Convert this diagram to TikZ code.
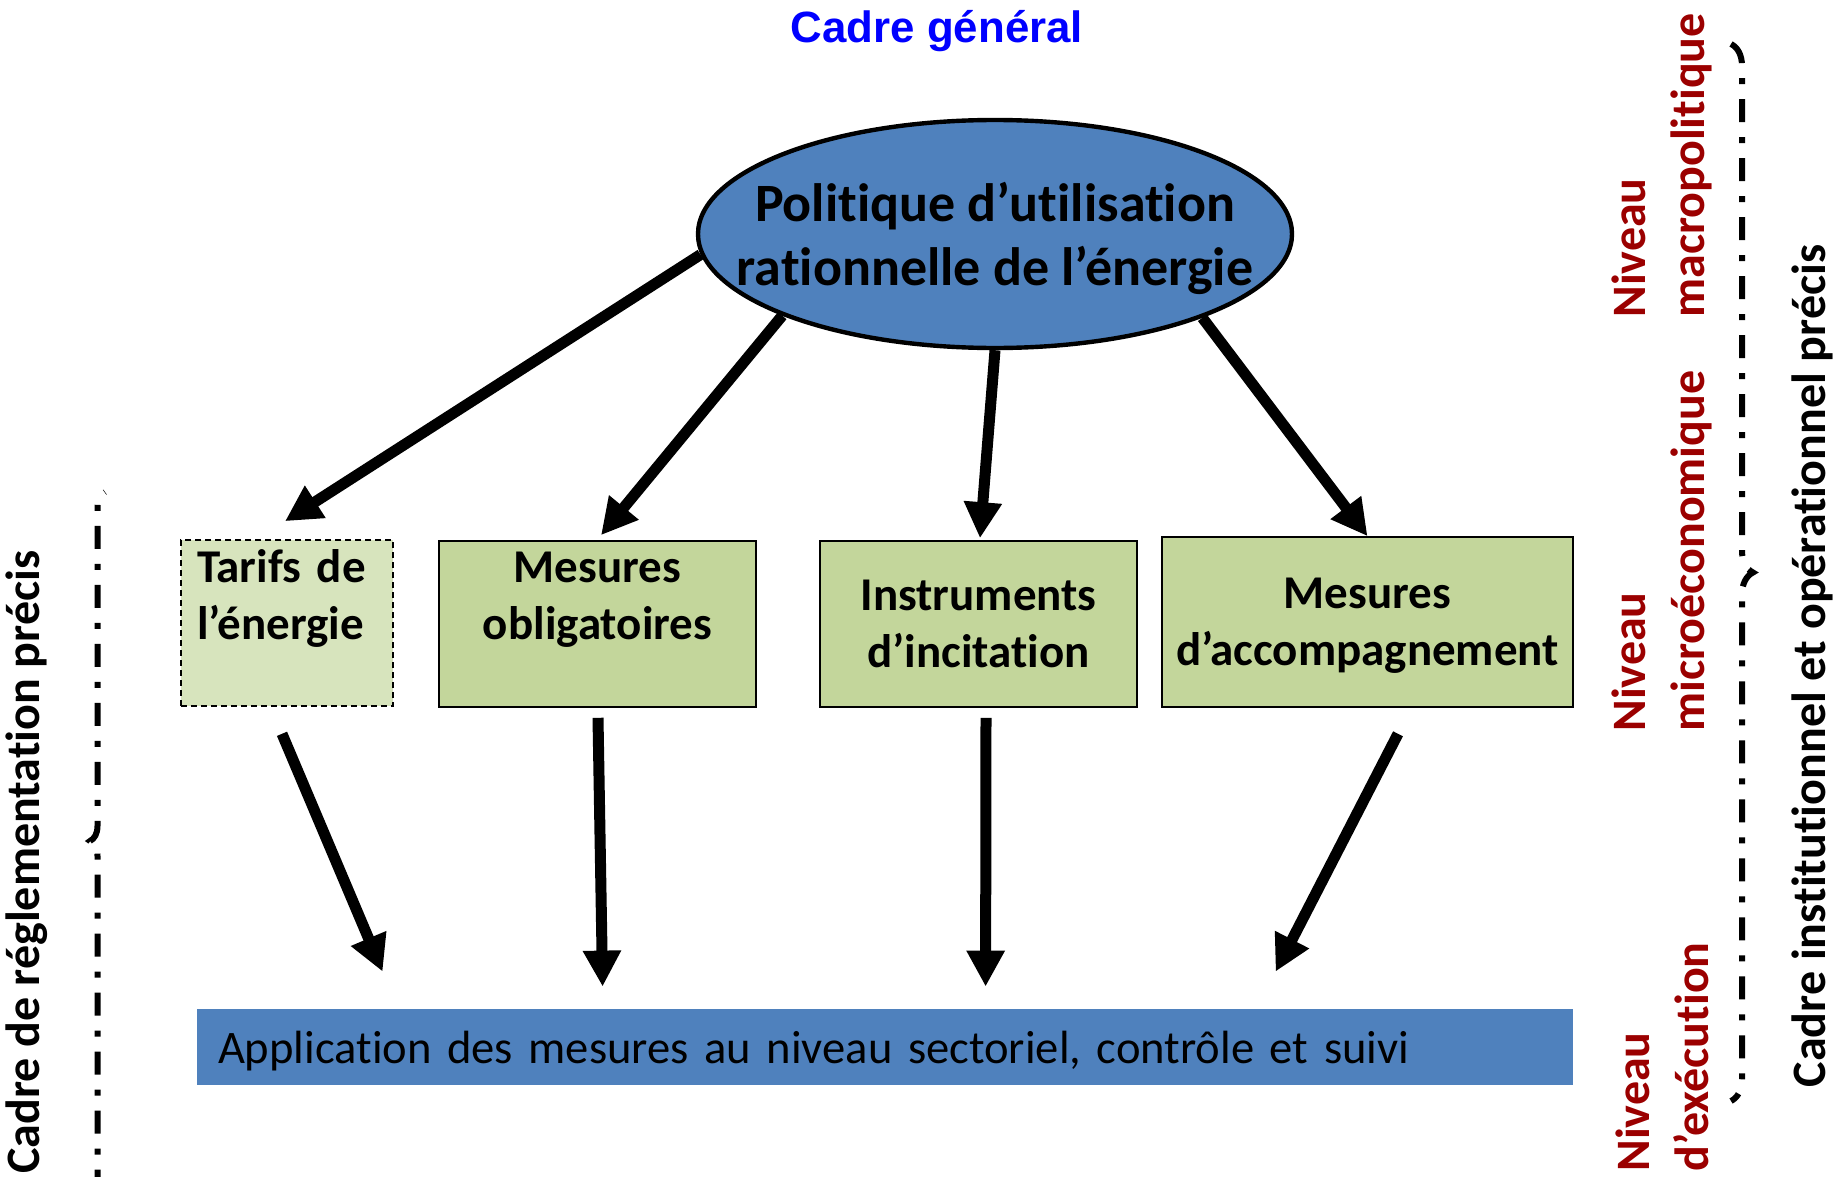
\documentclass[tikz,border=0pt]{standalone}
\usepackage{fontspec}
\setmainfont[Ligatures={TeX,NoCommon}]{Carlito}
\newfontfamily\arialf{Liberation Sans}
\usetikzlibrary{shapes.geometric,arrows.meta,decorations.pathreplacing}
\definecolor{bleu}{RGB}{79,129,189}
\definecolor{vert}{RGB}{195,214,155}
\definecolor{vertclair}{RGB}{215,228,189}
\definecolor{rouge}{RGB}{155,0,0}

\begin{document}
\begin{tikzpicture}[x=0.5pt,y=-0.5pt,
    boite/.style={draw,line width=0.8pt,fill=vert,inner sep=0pt,align=center,text depth=0pt,
      font=\bfseries\fontsize{23.5}{28.5}\selectfont},
    fleche/.style={line width=5.5pt,-{Triangle[length=18pt,width=18pt]}},
    niveau/.style={rotate=90,anchor=west,align=left,inner sep=0pt,text=rouge,
      font=\bfseries\fontsize{24}{29.5}\selectfont},
    cadre/.style={rotate=90,inner sep=0pt,font=\bfseries\fontsize{24}{29}\selectfont},
    accolade/.style={decorate,line width=3pt,
      dash pattern=on 11.5pt off 7.5pt on 3pt off 7.5pt}]
  \useasboundingbox (0,0) rectangle (1836,1177);
  \node[text=blue,font=\arialf\bfseries\fontsize{21.9}{26}\selectfont] (titre) at (937,31) {Cadre général};
  \node[ellipse,draw,line width=2.2pt,fill=bleu,minimum width=297pt,minimum height=114pt,
    inner xsep=-25pt,inner ysep=0pt,text depth=0pt,align=center,font=\bfseries\fontsize{27}{32}\selectfont]
    (pol) at (995,234) {Politique d’utilisation\\rationnelle de l’énergie};
    % les quatre types de mesures
    \node[boite,fill=vertclair,dash pattern=on 3pt off 2pt,align=left,text width=90pt,
      inner xsep=8pt,text depth=57pt,minimum height=83pt] (tarifs) at (287,623) {Tarifs de\\l’énergie\\\mbox{}};
    \node[boite,minimum width=158.5pt,minimum height=83pt] (oblig) at (597.5,624) {Mesures\\obligatoires\\\mbox{}};
    \node[boite,minimum width=158.5pt,minimum height=83pt] (incit) at (978.5,624) {Instruments\\d’incitation};
    \node[boite,minimum width=205.5pt,minimum height=85pt] (accomp) at (1367.5,622) {Mesures\\d’accompagnement};
    \node[fill=bleu,inner xsep=10.5pt,inner ysep=0pt,text width=667pt,minimum height=38pt,text depth=0pt,
      align=left,font=\fontsize{23.3}{28}\selectfont] (appli) at (885,1047)
      {Application des mesures au niveau sectoriel, contrôle et suivi};
    \draw[fleche] (pol.184.75) -- ([shift={(-2,-18)}]tarifs.north);
    \draw[fleche] (pol.201.9) -- ([shift={(3.5,-5)}]oblig.north);
    \draw[fleche] (pol.south) -- ([shift={(1.5,-2)}]incit.north);
    \draw[fleche] (pol.338.3) -- (accomp.north);
    \draw[fleche] ([shift={(-5,27)}]tarifs.south) -- ([shift={(186,-37)}]appli.north west);
    \draw[fleche] ([shift={(0.5,10)}]oblig.south) -- ([shift={(406,-22)}]appli.north west);
    \draw[fleche] ([shift={(7.5,10)}]incit.south) -- ([shift={(789,-22)}]appli.north west);
    \draw[fleche] ([shift={(30.5,26)}]accomp.south) -- ([shift={(1079,-37)}]appli.north west);
  \draw[accolade,decoration={brace,amplitude=7.5pt}] (105,1190) -- (105,492);
  \draw[accolade,decoration={brace,amplitude=11pt}] (1731,44) -- (1731,1101);
  \node[niveau] (macro) at (1662,318) {Niveau\\macropolitique};
  \node[niveau] (micro) at (1662,732) {Niveau\\microéconomique};
  \node[niveau] (exec) at (1662,1172) {Niveau\\d’exécution};
  \node[cadre] (instit) at (1812,666) {Cadre institutionnel et opérationnel précis};
  \node[cadre] (regl) at (27,862) {Cadre de réglementation précis};
\end{tikzpicture}
\end{document}
